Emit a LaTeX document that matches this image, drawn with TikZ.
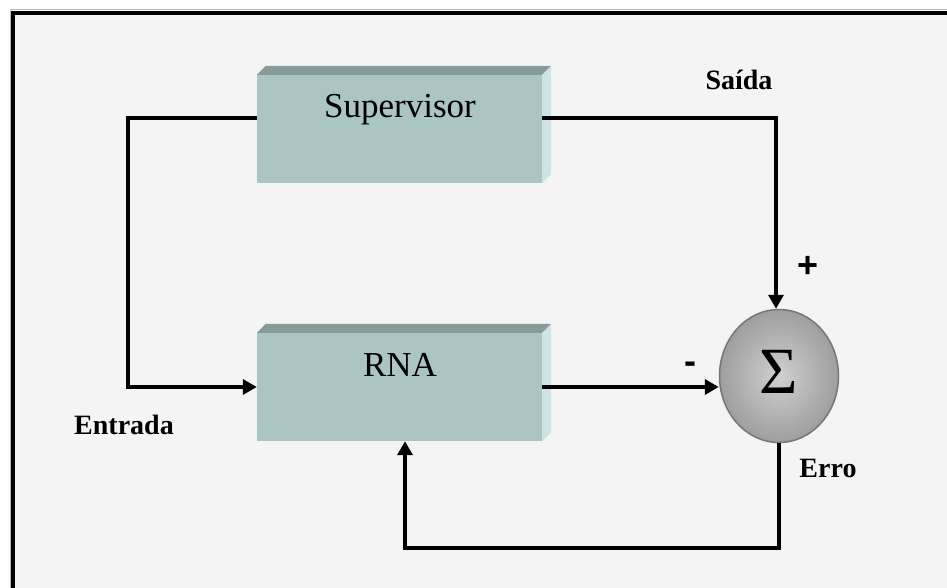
\documentclass[tikz,border=0pt]{standalone}
\usepackage{fontspec}
\setmainfont{Liberation Serif}
\newfontfamily\lsans{Liberation Sans}
\usetikzlibrary{arrows.meta,shapes.geometric}
\definecolor{bgc}{RGB}{244,244,244}
\definecolor{faceC}{RGB}{171,196,196}
\definecolor{topC}{RGB}{135,155,155}
\definecolor{sideC}{RGB}{203,229,229}
\definecolor{sigIn}{RGB}{208,208,208}
\definecolor{sigOut}{RGB}{158,158,158}
\definecolor{sigEdge}{RGB}{118,118,118}
\tikzset{
  blk/.style={rectangle, minimum width=285pt, minimum height=108pt, fill=faceC, inner sep=0pt, draw=none},
  conn/.style={line width=3.8pt, line join=miter},
  arr/.style={conn, -{Triangle[length=14pt,width=15pt]}},
  lbl/.style={font=\fontsize{28}{30}\selectfont\bfseries, anchor=base, inner sep=0pt},
  boxtxt/.style={font=\fontsize{35}{38}\selectfont, anchor=base, inner sep=0pt},
  sgn/.style={font=\lsans\fontsize{36}{38}\selectfont\bfseries, inner sep=0pt}
}
\begin{document}
\begin{tikzpicture}[x=1pt,y=-1pt]
\useasboundingbox (0,0) rectangle (947,588);
\fill[white] (0,0) rectangle (947,588);
\fill[bgc] (14,14) rectangle (947,588);
\draw[gray!55, line width=1pt] (10,588) -- (10,10) -- (947,10);
\draw[black, line width=3.5pt] (12.8,588) -- (12.8,12.8) -- (947,12.8);

% boxes
\node[blk] (sup) at (399.5,129) {};
\node[blk] (rna) at (399.5,387) {};
\foreach \b in {sup,rna}{
  \fill[topC] (\b.north west) -- ++(9,-9) -- ([shift={(9pt,9pt)}]\b.north east) -- (\b.north east) -- cycle;
  \fill[sideC] (\b.north east) -- ++(9,-9) -- ([shift={(9pt,9pt)}]\b.south east) -- (\b.south east) -- cycle;
}
\node[boxtxt] (tsup) at (400,118) {Supervisor};
\node[boxtxt] (trna) at (400,376) {RNA};

% summing junction
\node[ellipse, minimum width=119pt, minimum height=133pt, inner sep=0pt,
      shading=radial, inner color=sigIn, outer color=sigOut,
      draw=sigEdge, line width=1.5pt] (sig) at (779,376) {};
\node[font=\fontsize{66}{68}\selectfont, anchor=base, inner sep=0pt] (sigma) at (779,393) {Σ};

% connectors
\draw[arr] ([yshift=11pt]sup.west) -- ++(-129,0) |- (rna.west);
\draw[arr] ([yshift=11pt]sup.east) -| ([xshift=-3pt]sig.north);
\draw[arr] (rna.east) -- (rna.east -| sig.west);
\coordinate (ebot) at (779,548);
\draw[arr] (sig.south) -- (ebot) -| ([xshift=5.5pt]rna.south);

% labels
\node[lbl] (saida) at (739,90) {Saída};
\node[lbl] (entrada) at (124,434) {Entrada};
\node[lbl] (erro) at (828,477) {Erro};
\node[sgn] (plus) at (808,267) {+};
\node[sgn] (minus) at (690,368) {-};
\end{tikzpicture}
\end{document}
